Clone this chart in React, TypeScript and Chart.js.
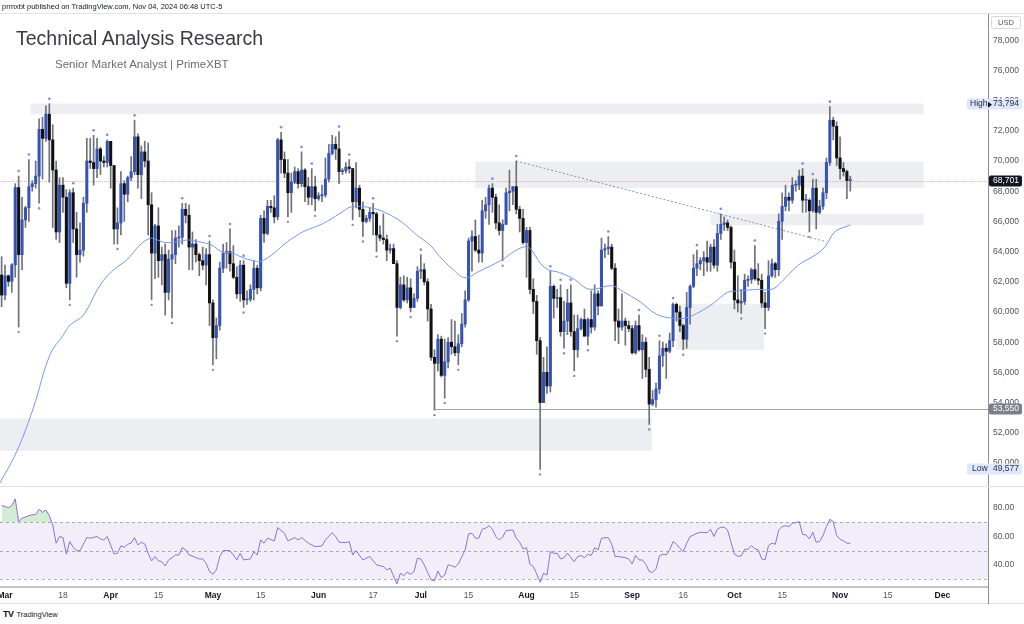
import React, { useEffect, useRef } from 'react';
import { Chart, registerables } from 'chart.js';

Chart.register(...registerables);

const FONT = '"Liberation Sans", Arial, Helvetica, sans-serif';

// Day index: 0 = 1 Mar 2024 (first candle is 29 Feb 2024 = -1)
const firstDay = -1;

const opens = [
  62450, 61120, 62400, 62030, 63130, 68240, 63800, 66100, 66900, 68300,
  68500, 69000, 72100, 71500, 73100, 71400, 69400, 65300, 68400, 67600,
  61900, 67900, 65500, 63800, 64100, 67200, 70000, 69900, 69500, 70800,
  70000, 69900, 71300, 69700, 65500, 65900, 68500, 67800, 68900, 69300,
  71600, 69100, 70600, 70000, 67100, 63900, 65700, 63400, 63800, 61300,
  63500, 63800, 64900, 64950, 66800, 66400, 64300, 64500, 63800, 63400,
  63100, 63800, 60600, 58300, 59100, 62900, 63900, 64000, 63200, 62300,
  61200, 63100, 60800, 60850, 61500, 62900, 61600, 66200, 65200, 67000,
  66900, 66300, 71400, 70100, 69200, 67900, 68600, 69300, 68500, 69400,
  68300, 67600, 68300, 67500, 67700, 67750, 68800, 70500, 71100, 70800,
  69300, 69350, 69600, 69500, 67300, 68200, 66800, 66000, 66200, 66600,
  66500, 65100, 64900, 64800, 64100, 64200, 63200, 60300, 61800, 60800,
  61600, 60300, 60900, 62700, 62800, 62000, 60200, 57000, 56600, 58200,
  55800, 56700, 58000, 57700, 57300, 57900, 59200, 60800, 64700, 65000,
  64100, 63900, 66700, 67100, 68200, 67600, 65900, 65400, 65800, 67900,
  68000, 68300, 66800, 66200, 64600, 65400, 61500, 60700, 58100, 54000,
  56000, 55100, 61700, 60900, 60950, 58700, 59400, 60600, 58700, 57500,
  58900, 59500, 58400, 59500, 59000, 61200, 60400, 64100, 64200, 64300,
  62900, 59400, 59000, 59400, 59100, 58900, 57300, 59100, 57500, 58000,
  56200, 53900, 54200, 54900, 57100, 57600, 57400, 58100, 60500, 60000,
  59100, 58200, 60300, 61700, 62900, 63200, 63400, 63600, 63300, 64300,
  63100, 65200, 65800, 65900, 65600, 63300, 60800, 60600, 60700, 62100,
  62150, 62800, 62200, 62100, 60600, 60300, 62400, 63200, 62800, 66000,
  67000, 67600, 67400, 68400, 68400, 69000, 67400, 67400, 66700, 68200,
  66600, 67000, 67900, 69900, 72700, 72300, 70200, 69500, 69300, 68700,
];

const highs = [
  63660, 63100, 62450, 63200, 68500, 69000, 67600, 67000, 70100, 68700,
  70000, 72800, 72900, 73650, 73794, 72400, 70000, 68900, 68900, 68100,
  68100, 68200, 66600, 65900, 67600, 71500, 71500, 71700, 71500, 70900,
  70300, 71400, 71300, 69700, 66900, 69300, 68700, 69000, 70300, 72700,
  71800, 71000, 71300, 71200, 67900, 65800, 66900, 64300, 64500, 64100,
  65400, 65400, 65700, 67200, 67200, 67100, 65300, 64800, 63900, 64300,
  64200, 64700, 60800, 59600, 63300, 64500, 64600, 65500, 64400, 63000,
  63400, 63400, 61400, 61800, 63400, 63100, 66400, 66700, 67400, 67400,
  67700, 71500, 71900, 70600, 70100, 69200, 69600, 69500, 70600, 69500,
  68900, 69500, 69000, 67900, 68400, 70200, 71100, 71700, 71600, 71950,
  69500, 69900, 70100, 69500, 69900, 68400, 67300, 66400, 66900, 67200,
  66600, 65700, 66500, 65100, 64500, 64500, 63400, 62300, 62400, 62300,
  62200, 61200, 63000, 63800, 63200, 62200, 60500, 57500, 58500, 58400,
  58200, 58300, 59500, 59400, 58500, 59900, 61400, 64900, 65400, 66100,
  65100, 67400, 67600, 68400, 68500, 67800, 67100, 66100, 68200, 69400,
  68300, 70000, 67000, 66800, 65600, 65600, 62200, 61100, 58300, 57000,
  57700, 62700, 61800, 61500, 61800, 60700, 61500, 61800, 59800, 59800,
  59600, 60200, 59600, 61400, 61800, 61400, 64900, 64500, 65000, 64500,
  63200, 60200, 61200, 59600, 59400, 59100, 59400, 59800, 58500, 58300,
  57000, 54800, 55300, 58100, 58000, 57900, 58600, 60600, 60600, 60400,
  59200, 61300, 61800, 63800, 64100, 63600, 64000, 64700, 64500, 64800,
  65800, 66500, 66300, 66100, 65700, 64100, 62400, 61500, 62500, 62400,
  62900, 64400, 63200, 62500, 61300, 63400, 63500, 63300, 66500, 67900,
  68400, 67900, 68900, 68700, 69400, 69500, 67800, 67500, 68800, 68800,
  67400, 68200, 70200, 73600, 72900, 72600, 71600, 69900, 69400, 69000,
];

const lows = [
  60350, 60800, 61700, 61300, 62300, 59000, 62800, 65600, 66000, 68000,
  68200, 67200, 68800, 71300, 68600, 65600, 64800, 64600, 66600, 61600,
  60800, 64600, 62300, 63300, 63700, 66600, 69500, 68400, 68900, 69100,
  69600, 69600, 68200, 64500, 64500, 65100, 66000, 67300, 68700, 69100,
  68200, 67500, 69600, 65100, 60800, 62200, 62300, 61800, 59800, 60800,
  59600, 63200, 64300, 64500, 65900, 62800, 62800, 63300, 62400, 62800,
  61800, 59100, 56500, 56900, 58800, 62600, 62900, 62700, 62200, 60900,
  60700, 60300, 60500, 60700, 60800, 61200, 61400, 64600, 65100, 66600,
  65900, 66100, 69200, 68900, 66300, 66600, 68500, 68200, 68300, 67300,
  67100, 67100, 66700, 67400, 67300, 67600, 68600, 70400, 70100, 68500,
  69100, 69200, 69200, 66100, 66900, 66300, 65000, 65900, 66000, 65100,
  64000, 64700, 64500, 63400, 63900, 63200, 58400, 60200, 60700, 60600,
  60000, 60300, 60700, 62200, 61800, 59400, 56800, 53500, 56100, 55700,
  54300, 56300, 57200, 57100, 56500, 57700, 59000, 60700, 62700, 64000,
  63300, 63300, 66200, 65800, 66600, 65500, 65100, 63400, 65800, 66700,
  67100, 66500, 65300, 64500, 62300, 61200, 59900, 57200, 49577, 54000,
  54600, 54700, 59600, 60300, 58400, 57600, 58500, 58400, 56100, 57000,
  58800, 58400, 57800, 58600, 58800, 59800, 60400, 63600, 63800, 62800,
  58100, 57900, 58800, 57800, 58700, 57200, 57200, 57400, 55600, 55700,
  52550, 53800, 53700, 54600, 56400, 55600, 57300, 57700, 59400, 58700,
  57500, 57600, 59200, 61600, 62400, 62800, 62400, 62700, 62700, 62900,
  62700, 64800, 65400, 65400, 62900, 60200, 60000, 59900, 60500, 61700,
  61900, 62100, 61800, 60300, 58900, 60100, 62300, 62300, 62400, 64800,
  66700, 66700, 67200, 68000, 68100, 66600, 66600, 65300, 66600, 65500,
  66500, 66800, 67500, 69700, 71400, 69700, 68800, 69000, 67500, 68000,
];

const closes = [
  61120, 62400, 62030, 63130, 68240, 63800, 66100, 66900, 68300, 68500,
  69000, 72100, 71500, 73100, 71400, 69400, 65300, 68400, 67600, 61900,
  67900, 65500, 63800, 64100, 67200, 70000, 69900, 69500, 70800, 70000,
  69900, 71300, 69700, 65500, 65900, 68500, 67800, 68900, 69300, 71600,
  69100, 70600, 70000, 67100, 63900, 65700, 63400, 63800, 61300, 63500,
  63800, 64900, 64950, 66800, 66400, 64300, 64500, 63800, 63400, 63100,
  63800, 60600, 58300, 59100, 62900, 63900, 64000, 63200, 62300, 61200,
  63100, 60800, 60850, 61500, 62900, 61600, 66200, 65200, 67000, 66900,
  66300, 71400, 70100, 69200, 67900, 68600, 69300, 68500, 69400, 68300,
  67600, 68300, 67500, 67700, 67750, 68800, 70500, 71100, 70800, 69300,
  69350, 69600, 69500, 67300, 68200, 66800, 66000, 66200, 66600, 66500,
  65100, 64900, 64800, 64100, 64200, 63200, 60300, 61800, 60800, 61600,
  60300, 60900, 62700, 62800, 62000, 60200, 57000, 56600, 58200, 55800,
  56700, 58000, 57700, 57300, 57900, 59200, 60800, 64700, 65000, 64100,
  63900, 66700, 67100, 68200, 67600, 65900, 65400, 65800, 67900, 68000,
  68300, 66800, 66200, 64600, 65400, 61500, 60700, 58100, 54000, 56000,
  55100, 61700, 60900, 60950, 58700, 59400, 60600, 58700, 57500, 58900,
  59500, 58400, 59500, 59000, 61200, 60400, 64100, 64200, 64300, 62900,
  59400, 59000, 59400, 59100, 58900, 57300, 59100, 57500, 58000, 56200,
  53900, 54200, 54900, 57100, 57600, 57400, 58100, 60500, 60000, 59100,
  58200, 60300, 61700, 62900, 63200, 63400, 63600, 63300, 64300, 63100,
  65200, 65800, 65900, 65600, 63300, 60800, 60600, 60700, 62100, 62150,
  62800, 62200, 62100, 60600, 60300, 62400, 63200, 62800, 66000, 67000,
  67600, 67400, 68400, 68400, 69000, 67400, 67400, 66700, 68200, 66600,
  67000, 67900, 69900, 72700, 72300, 70200, 69500, 69300, 68700, 68701,
];

// 50-day moving average: [day, price]
const maPoints = [
  [-1.5, 48675], [3.4, 50750], [8.3, 53640], [13.2, 57170], [17.1, 58470], [19.1, 59140], [23, 59800], [27.9, 61785],
  [31.8, 62780], [35.7, 63440], [39.6, 64440], [42.5, 64880], [44, 64830], [47, 64600], [50.9, 64660], [53.8, 64770],
  [56.7, 64660], [60.6, 64435], [63.6, 63990], [66.5, 63900], [70.4, 63550], [73.4, 63375], [74.8, 63330], [78.2, 63770],
  [82.2, 64540], [85.1, 64990], [87.5, 65320], [93.4, 65870], [98.3, 66530], [101.7, 66970], [108.1, 66860], [113, 66420],
  [116.9, 65870], [120.8, 65100], [124.7, 64435], [127.6, 63660], [131.1, 62890], [135, 62270], [138.9, 62670], [145.7, 63440],
  [149.6, 64040], [152.6, 64330], [154, 64220], [158.4, 62935], [163.4, 62560], [167.3, 62120], [170.2, 61610], [172.6, 61500],
  [178, 61740], [181.4, 61345], [186.3, 60680], [191.2, 59850], [196.1, 59580], [200, 59620], [203.9, 60020], [207.8, 60570],
  [212, 61300], [215.2, 61390], [221, 61500], [225, 61500], [227.9, 62005], [232.8, 63110], [237.7, 63770], [240.6, 64325],
  [243.5, 65318], [248, 65760],
];

// RSI: [day, value]
const rsiPoints = [
  [-1, 81.8], [0, 81.1], [1, 80.4], [2, 81.8], [3, 86.5], [4, 70.5], [5, 72.8], [7, 74.7], [9, 75.6], [10, 79.2],
  [11, 77.0], [12, 78.7], [13, 74.7], [14, 68.1], [15, 55.2], [16, 59.9], [17, 59.2], [18, 47.4], [19, 56.4], [20, 52.4],
  [21, 49.8], [22, 50.0], [24, 59.2], [25, 58.8], [27, 59.9], [28, 58.2], [29, 57.5], [30, 59.9], [32, 47.6], [33, 48.1],
  [34, 53.3], [35, 52.4], [36, 54.5], [37, 55.2], [38, 59.2], [39, 54.0], [40, 55.9], [41, 54.7], [42, 48.1], [43, 42.7],
  [44, 45.8], [45, 42.7], [46, 42.2], [47, 39.2], [48, 43.4], [49, 45.0], [50, 46.9], [51, 46.9], [52, 52.1], [53, 50.5],
  [54, 46.9], [55, 46.2], [56, 45.0], [57, 44.1], [58, 44.1], [59, 41.1], [60, 35.2], [61, 33.3], [62, 36.4], [63, 45.8],
  [64, 50.0], [66, 50.0], [67, 46.9], [68, 43.4], [69, 48.1], [70, 43.4], [72, 44.1], [73, 49.3], [74, 46.9], [75, 57.5],
  [76, 55.2], [77, 58.8], [79, 56.8], [80, 66.2], [82, 62.2], [83, 56.8], [85, 59.2], [86, 57.5], [87, 59.2], [89, 55.2],
  [90, 54.0], [91, 52.8], [93, 53.3], [94, 57.5], [96, 62.7], [97, 59.9], [98, 55.9], [100, 55.6], [101, 56.4], [102, 46.9],
  [103, 50.0], [105, 43.4], [107, 45.8], [109, 39.9], [111, 38.7], [112, 36.4], [113, 37.6], [115, 26.5], [116, 34.0], [117, 32.4],
  [118, 34.7], [119, 33.3], [120, 35.2], [121, 44.6], [122, 44.1], [123, 39.9], [124, 34.7], [125, 29.3], [126, 28.6], [127, 35.6],
  [128, 30.9], [129, 32.8], [130, 39.9], [131, 39.4], [132, 38.2], [133, 40.6], [135, 50.5], [136, 61.8], [137, 62.2], [138, 58.8],
  [139, 58.8], [140, 65.1], [141, 65.8], [142, 67.6], [143, 65.1], [144, 59.9], [145, 57.5], [146, 59.4], [147, 64.1], [149, 64.6],
  [150, 58.8], [151, 55.9], [152, 51.2], [153, 52.1], [154, 40.4], [155, 38.7], [156, 33.5], [157, 27.6], [158, 34.0], [159, 32.8],
  [160, 49.3], [161, 48.1], [162, 48.1], [163, 44.1], [164, 45.0], [165, 48.1], [167, 42.2], [168, 45.8], [169, 46.5], [170, 45.0],
  [171, 47.4], [172, 46.5], [173, 52.1], [174, 50.5], [175, 58.8], [177, 59.2], [178, 54.5], [179, 45.8], [180, 45.8], [182, 45.0],
  [183, 44.1], [184, 40.6], [185, 46.5], [186, 43.4], [187, 43.4], [188, 40.4], [189, 35.2], [190, 34.7], [191, 37.1], [192, 46.2],
  [193, 47.4], [194, 46.9], [195, 50.5], [196, 56.4], [197, 54.5], [198, 51.6], [199, 49.3], [200, 55.2], [201, 59.9], [203, 62.2],
  [204, 62.9], [206, 62.7], [207, 65.1], [208, 59.9], [209, 65.1], [210, 66.5], [211, 66.5], [212, 64.5], [213, 56.0], [214, 47.5],
  [215, 46.0], [216, 46.2], [217, 50.9], [218, 50.9], [219, 53.5], [220, 51.2], [221, 50.5], [222, 44.1], [223, 43.4], [224, 53.5],
  [225, 55.2], [226, 54.5], [227, 64.6], [228, 66.9], [229, 67.6], [230, 66.9], [231, 69.3], [232, 69.8], [233, 70.5], [234, 61.5],
  [235, 61.1], [236, 58.2], [237, 62.9], [238, 55.9], [239, 56.4], [240, 60.6], [241, 66.9], [242, 72.1], [243, 70.5], [244, 60.6],
  [245, 58.0], [246, 56.8], [247, 55.2], [248, 55.2],
];

const fractalHighDays = [4, 7, 13, 20, 26, 30, 38, 52, 60, 66, 70, 81, 87, 90, 98, 101, 108, 122, 143, 150, 160, 163, 166, 177, 186, 192, 196, 203, 210, 220, 234, 237, 242];
const fractalLowDays = [4, 10, 19, 33, 43, 49, 61, 70, 83, 91, 102, 105, 109, 115, 119, 126, 129, 133, 146, 157, 164, 167, 171, 189, 199, 216, 223, 236];

// Zones drawn on the chart: [fromDay, toDay, lowPrice, highPrice]
const zones = [
  [7.5, 269.5, 73100, 73800],
  [138, 269.5, 68200, 69950],
  [207, 269.5, 65750, 66500],
  [197, 222.7, 57500, 60550],
  [-1.5, 189.8, 50800, 52950],
];
const trendLine = [[150, 70000], [241, 64650]];
const supportLevel = 53550;
const supportFromDay = 126;
const lastPrice = 68701;
const highValue = 73794;
const lowValue = 49577;

const tickDays = [0, 17, 31, 45, 61, 75, 92, 108, 122, 136, 153, 167, 184, 199, 214, 228, 245, 259, 275];
const tickLabels = ['Mar', '18', 'Apr', '15', 'May', '15', 'Jun', '17', 'Jul', '15', 'Aug', '15', 'Sep', '16', 'Oct', '15', 'Nov', '15', 'Dec'];
const priceTicks = [50000, 52000, 54000, 56000, 58000, 60000, 62000, 64000, 66000, 68000, 70000, 72000, 74000, 76000, 78000];
const rsiTicks = [40, 60, 80];

const X_MIN = -1.47;
const X_MAX = 288.4;
const PRICE_MIN = 48477;
const PRICE_MAX = 79735;
const RSI_MIN = 24.3;
const RSI_MAX = 95.6;

const days = opens.map((_, i) => firstDay + i);
const fmt = (v: number) => Math.round(v).toLocaleString('en-US');

function tag(ctx: CanvasRenderingContext2D, yPix: number, left: number, right: number, bg: string) {
  ctx.fillStyle = bg;
  ctx.beginPath();
  ctx.roundRect(left, Math.round(yPix) - 5.5, right - left, 11, 2);
  ctx.fill();
}

const pricePanePlugin = {
  id: 'pricePane',
  beforeDatasetsDraw(chart: any) {
    const { ctx, chartArea: a, scales } = chart;
    const x = scales.x;
    const y = scales.y;
    ctx.save();
    ctx.beginPath();
    ctx.rect(a.left, a.top, a.right - a.left, a.bottom - a.top);
    ctx.clip();
    ctx.fillStyle = 'rgba(206,208,216,0.36)';
    zones.forEach(([d0, d1, p0, p1]) => {
      const x0 = x.getPixelForValue(d0);
      const x1 = x.getPixelForValue(d1);
      const y0 = y.getPixelForValue(p1);
      const y1 = y.getPixelForValue(p0);
      ctx.fillRect(x0, y0, x1 - x0, y1 - y0);
    });
    // current price dotted line
    const yl = Math.round(y.getPixelForValue(lastPrice)) + 0.5;
    ctx.strokeStyle = 'rgba(242,54,69,0.4)';
    ctx.lineWidth = 1;
    ctx.setLineDash([1, 1]);
    ctx.beginPath();
    ctx.moveTo(a.left, yl);
    ctx.lineTo(a.right, yl);
    ctx.stroke();
    // support line
    const ys = Math.round(y.getPixelForValue(supportLevel)) + 0.5;
    ctx.setLineDash([]);
    ctx.strokeStyle = '#a3a6af';
    ctx.beginPath();
    ctx.moveTo(x.getPixelForValue(supportFromDay), ys);
    ctx.lineTo(a.right, ys);
    ctx.stroke();
    // trend line
    ctx.strokeStyle = '#8f929b';
    ctx.setLineDash([2, 2]);
    ctx.beginPath();
    ctx.moveTo(x.getPixelForValue(trendLine[0][0]), y.getPixelForValue(trendLine[0][1]));
    ctx.lineTo(x.getPixelForValue(trendLine[1][0]), y.getPixelForValue(trendLine[1][1]));
    ctx.stroke();
    ctx.restore();
  },
  afterDatasetsDraw(chart: any) {
    const { ctx, scales } = chart;
    const x = scales.x;
    const y = scales.y;
    ctx.save();
    ctx.fillStyle = '#6f8ef2';
    fractalHighDays.forEach((d) => {
      const i = d - firstDay;
      ctx.beginPath();
      ctx.arc(x.getPixelForValue(d), y.getPixelForValue(highs[i]) - 5, 1.3, 0, Math.PI * 2);
      ctx.fill();
    });
    ctx.fillStyle = '#8c8f99';
    fractalLowDays.forEach((d) => {
      const i = d - firstDay;
      ctx.beginPath();
      ctx.arc(x.getPixelForValue(d), y.getPixelForValue(lows[i]) + 5, 1.2, 0, Math.PI * 2);
      ctx.fill();
    });
    ctx.restore();
  },
  afterDraw(chart: any) {
    const { ctx, chartArea: a, scales, width } = chart;
    const y = scales.y;
    ctx.save();
    // top frame line
    ctx.strokeStyle = '#e0e3eb';
    ctx.lineWidth = 1;
    ctx.beginPath();
    ctx.moveTo(0, a.top - 0.5);
    ctx.lineTo(width, a.top - 0.5);
    ctx.stroke();
    ctx.font = `8.5px ${FONT}`;
    ctx.textBaseline = 'middle';
    // USD box
    ctx.strokeStyle = '#d6d8de';
    ctx.beginPath();
    ctx.roundRect(991.5, 16.5, 29, 12, 2);
    ctx.stroke();
    ctx.fillStyle = '#50535e';
    ctx.font = `7.5px ${FONT}`;
    ctx.textAlign = 'center';
    ctx.fillText('USD', 1006, 23);
    ctx.font = `8.5px ${FONT}`;
    ctx.textAlign = 'left';
    // High tag
    const yh = y.getPixelForValue(highValue);
    tag(ctx, yh, 967, 1022, '#dde8fb');
    ctx.fillStyle = '#2a2e39';
    ctx.fillText('High', 970, Math.round(yh));
    ctx.fillText(fmt(highValue), 993, Math.round(yh));
    ctx.fillStyle = '#131722';
    ctx.beginPath();
    ctx.moveTo(988, yh - 2);
    ctx.lineTo(992, yh + 1);
    ctx.lineTo(988, yh + 4);
    ctx.closePath();
    ctx.fill();
    // Low tag
    const ylo = y.getPixelForValue(lowValue);
    tag(ctx, ylo, 967, 1022, '#dde8fb');
    ctx.fillStyle = '#2a2e39';
    ctx.fillText('Low', 972, Math.round(ylo));
    ctx.fillText(fmt(lowValue), 993, Math.round(ylo));
    // last price tag
    const yl = y.getPixelForValue(lastPrice);
    tag(ctx, yl, 989, 1022, '#131722');
    ctx.fillStyle = '#ffffff';
    ctx.fillText(fmt(lastPrice), 993, Math.round(yl));
    // support tag
    const ys = y.getPixelForValue(supportLevel);
    tag(ctx, ys, 989, 1022, '#7c7f89');
    ctx.fillStyle = '#ffffff';
    ctx.fillText(fmt(supportLevel), 993, Math.round(ys));
    ctx.restore();
  },
};

const rsiPanePlugin = {
  id: 'rsiPane',
  beforeDatasetsDraw(chart: any) {
    const { ctx, chartArea: a, scales } = chart;
    const r = scales.y;
    ctx.save();
    const y70 = r.getPixelForValue(70);
    const y30 = r.getPixelForValue(30);
    ctx.fillStyle = 'rgba(126,87,194,0.1)';
    ctx.fillRect(a.left, y70, a.right - a.left, y30 - y70);
    ctx.strokeStyle = 'rgba(120,123,134,0.6)';
    ctx.lineWidth = 1;
    ctx.setLineDash([3, 3]);
    [70, 50, 30].forEach((v) => {
      const yy = Math.round(r.getPixelForValue(v)) + 0.5;
      ctx.beginPath();
      ctx.moveTo(a.left, yy);
      ctx.lineTo(a.right, yy);
      ctx.stroke();
    });
    ctx.restore();
  },
  afterDraw(chart: any) {
    const { ctx, chartArea: a, width, height } = chart;
    ctx.save();
    ctx.strokeStyle = '#e0e3eb';
    ctx.lineWidth = 1;
    ctx.beginPath();
    ctx.moveTo(0, 0.5);
    ctx.lineTo(width, 0.5);
    ctx.stroke();
    ctx.beginPath();
    ctx.moveTo(0, height - 2.5);
    ctx.lineTo(width, height - 2.5);
    ctx.stroke();
    ctx.strokeStyle = '#8a8d96';
    ctx.beginPath();
    ctx.moveTo(a.right + 0.5, a.bottom);
    ctx.lineTo(a.right + 0.5, height - 2);
    ctx.stroke();
    ctx.restore();
  },
};

export default function App() {
  const priceRef = useRef<HTMLCanvasElement>(null);
  const rsiRef = useRef<HTMLCanvasElement>(null);

  useEffect(() => {
    const upColor = '#3553b6';
    const downColor = '#111111';
    const priceChart = new Chart(priceRef.current as HTMLCanvasElement, {
      type: 'bar',
      data: {
        datasets: [
          {
            type: 'bar',
            label: 'wicks',
            data: days.map((d, i) => ({ x: d, y: [lows[i], highs[i]] })),
            backgroundColor: '#6e717b',
            barThickness: 1,
            grouped: false,
            order: 3,
          } as any,
          {
            type: 'bar',
            label: 'bodies',
            data: days.map((d, i) => ({ x: d, y: [opens[i], closes[i]] })),
            backgroundColor: days.map((_, i) => (closes[i] >= opens[i] ? upColor : downColor)),
            barThickness: 2.4,
            minBarLength: 1,
            grouped: false,
            order: 2,
          } as any,
          {
            type: 'line',
            label: 'MA',
            data: maPoints.map(([d, v]) => ({ x: d, y: v })),
            borderColor: '#7398f3',
            borderWidth: 1,
            pointRadius: 0,
            tension: 0.4,
            order: 1,
          } as any,
        ],
      },
      options: {
        responsive: false,
        animation: false,
        events: [],
        layout: { padding: { top: 14, left: 0, right: 0, bottom: 0 } },
        plugins: { legend: { display: false }, tooltip: { enabled: false } },
        scales: {
          x: { type: 'linear', min: X_MIN, max: X_MAX, offset: false, display: false },
          y: {
            type: 'linear',
            position: 'right',
            min: PRICE_MIN,
            max: PRICE_MAX,
            beginAtZero: false,
            grid: { display: false, drawTicks: false },
            border: { display: true, color: '#8a8d96', width: 1 },
            afterBuildTicks: (s: any) => {
              s.ticks = priceTicks.map((v) => ({ value: v }));
            },
            afterFit: (s: any) => {
              s.width = 36;
              s.paddingTop = 0;
              s.paddingBottom = 0;
            },
            ticks: {
              padding: 5,
              color: '#50535e',
              font: { family: FONT, size: 8.5 },
              callback: (v: any) => fmt(Number(v)),
            },
          },
        },
      } as any,
      plugins: [pricePanePlugin],
    });

    const rsiData = rsiPoints.map(([d, v]) => ({ x: d, y: v }));
    const rsiChart = new Chart(rsiRef.current as HTMLCanvasElement, {
      type: 'line',
      data: {
        datasets: [
          {
            data: rsiData,
            borderColor: '#8e70d8',
            borderWidth: 1,
            pointRadius: 0,
            tension: 0,
            fill: { target: { value: 70 }, above: 'rgba(76,175,80,0.25)', below: 'rgba(0,0,0,0)' },
          } as any,
          {
            data: rsiData,
            borderColor: 'rgba(0,0,0,0)',
            borderWidth: 0,
            pointRadius: 0,
            tension: 0,
            fill: { target: { value: 30 }, above: 'rgba(0,0,0,0)', below: 'rgba(242,54,69,0.18)' },
          } as any,
        ],
      },
      options: {
        responsive: false,
        animation: false,
        events: [],
        layout: { padding: 0 },
        plugins: { legend: { display: false }, tooltip: { enabled: false } },
        scales: {
          x: {
            type: 'linear',
            min: X_MIN,
            max: X_MAX,
            offset: false,
            grid: { display: false, drawTicks: false },
            border: { display: true, color: '#c3c6ce', width: 2 },
            afterBuildTicks: (s: any) => {
              s.ticks = tickDays.map((v) => ({ value: v }));
            },
            afterFit: (s: any) => {
              s.height = 19;
              s.paddingLeft = 0;
              s.paddingRight = 0;
            },
            ticks: {
              autoSkip: false,
              maxRotation: 0,
              padding: 4,
              font: (c: any) => ({
                family: FONT,
                size: 8.5,
                weight: c.tick && isNaN(Number(tickLabels[tickDays.indexOf(c.tick.value)])) ? 'bold' : 'normal',
              }),
              color: (c: any) =>
                c.tick && isNaN(Number(tickLabels[tickDays.indexOf(c.tick.value)])) ? '#131722' : '#50535e',
              callback: (v: any) => tickLabels[tickDays.indexOf(Number(v))],
            },
          },
          y: {
            type: 'linear',
            position: 'right',
            min: RSI_MIN,
            max: RSI_MAX,
            beginAtZero: false,
            grid: { display: false, drawTicks: false },
            border: { display: true, color: '#8a8d96', width: 1 },
            afterBuildTicks: (s: any) => {
              s.ticks = rsiTicks.map((v) => ({ value: v }));
            },
            afterFit: (s: any) => {
              s.width = 36;
              s.paddingTop = 0;
              s.paddingBottom = 0;
            },
            ticks: {
              padding: 5,
              color: '#50535e',
              font: { family: FONT, size: 8.5 },
              callback: (v: any) => Number(v).toFixed(2),
            },
          },
        },
      } as any,
      plugins: [rsiPanePlugin],
    });

    return () => {
      priceChart.destroy();
      rsiChart.destroy();
    };
  }, []);

  return (
    <div
      style={{
        position: 'fixed',
        left: 0,
        top: 0,
        width: 1024,
        height: 624,
        background: '#ffffff',
        overflow: 'hidden',
        fontFamily: FONT,
      }}
    >
      <canvas
        ref={priceRef}
        width={1024}
        height={486}
        style={{ position: 'absolute', left: 0, top: 0, width: 1024, height: 486 }}
      />
      <canvas
        ref={rsiRef}
        width={1024}
        height={120}
        style={{ position: 'absolute', left: 0, top: 486, width: 1024, height: 120 }}
      />
      <div
        style={{
          position: 'absolute',
          left: 2,
          top: 2,
          fontSize: 7.5,
          lineHeight: '9px',
          color: '#131722',
          whiteSpace: 'nowrap',
        }}
      >
        prmxbt published on TradingView.com, Nov 04, 2024 06:48 UTC-5
      </div>
      <div
        style={{
          position: 'absolute',
          left: 16,
          top: 29,
          fontSize: 19.5,
          lineHeight: 1,
          color: '#3a3b42',
          whiteSpace: 'nowrap',
        }}
      >
        Technical Analysis Research
      </div>
      <div
        style={{
          position: 'absolute',
          left: 55,
          top: 59,
          fontSize: 11.5,
          lineHeight: 1,
          color: '#6a6d78',
          whiteSpace: 'nowrap',
        }}
      >
        Senior Market Analyst | PrimeXBT
      </div>
      <div
        style={{
          position: 'absolute',
          left: 3,
          top: 609,
          fontSize: 7.5,
          lineHeight: '10px',
          color: '#131722',
          whiteSpace: 'nowrap',
        }}
      >
        <span style={{ fontWeight: 'bold', fontSize: 9, letterSpacing: -0.5, marginRight: 3 }}>TV</span>
        TradingView
      </div>
    </div>
  );
}
